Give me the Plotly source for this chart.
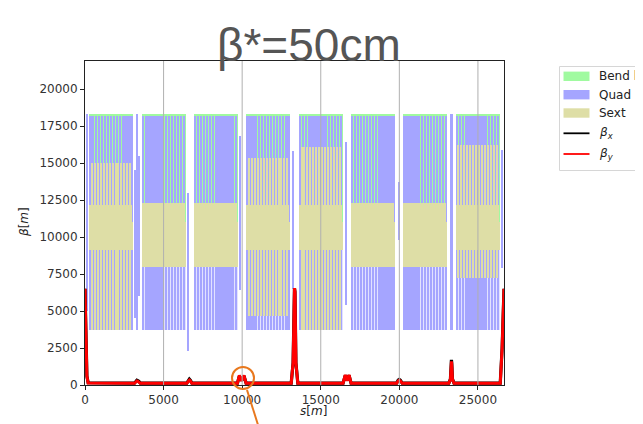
import numpy as np
import plotly.graph_objects as go

# ---------------- data ----------------
# arc extents along the ring [m]
arc_start = [265, 3597, 6930, 10262, 13594, 16927, 20259, 23580]
arc_end = [3067, 6400, 9732, 13064, 16397, 19729, 23061, 26394]
stripes_per_arc = 15

# element extents in the plot [m]
quad_low = 3700
quad_high = 18150
bend_low = 11000
bend_high = 18300

# sextupole bands per arc (None = band absent)
sext_sparse_low = [3700, None, None, 4660, 3700, None, None, 7200]
sext_sparse_high = [15000, None, None, 15350, 16100, None, None, 16200]
sext_dense_low = [11000, 11000, 11000, 11000, 11000, 11000, 11000, 11000]
sext_dense_high = [12200, 12300, 12300, 12200, 12200, 12300, 12300, 12200]
sext_solid_low = [9100, 8000, 8000, 9100, 9100, 8000, 8000, 9100]
sext_solid_high = [11000, 11000, 11000, 11000, 11000, 11000, 11000, 11000]

# insertion-region quadrupoles
ir_quad_s = [120, 3190, 3330, 3470, 6580, 9880, 13250, 16620, 19990, 23330, 26530]
ir_quad_low = [5000, 4500, 3700, 6000, 2300, 6400, 6500, 5400, 9800, 3700, 7900]
ir_quad_high = [18300, 14500, 18300, 15500, 13000, 16800, 15800, 16400, 13750, 18300, 15900]

# beta functions [m]
beta_s = [0, 50, 120, 200, 1600, 3150, 3250, 3300, 3360, 3420, 3520, 5000,
          6480, 6580, 6640, 6700, 6800, 8300,
          9700, 9820, 9965, 10110, 10250, 11700,
          13120, 13240, 13300, 13329, 13360, 13420, 13540, 15000,
          16420, 16560, 16680, 16800, 16930, 18300,
          19830, 19930, 19994, 20060, 20180, 21600,
          23150, 23250, 23300, 23315, 23335, 23380, 23480, 25000,
          26420, 26540, 26610, 26658.9]
beta_x = [6500, 3000, 600, 150, 130, 130, 260, 330, 300, 260, 130, 130,
          130, 300, 400, 330, 130, 130,
          130, 600, 300, 620, 130, 130,
          130, 1500, 6300, 6550, 6300, 1500, 130, 130,
          130, 650, 300, 650, 130, 130,
          130, 330, 380, 330, 130, 130,
          130, 400, 1500, 1700, 1500, 400, 130, 130,
          130, 2500, 6000, 6500]
beta_y = [6500, 3000, 600, 140, 120, 120, 220, 270, 250, 220, 120, 120,
          120, 260, 330, 280, 120, 120,
          120, 650, 280, 650, 120, 120,
          120, 1500, 6300, 6550, 6300, 1500, 120, 120,
          120, 680, 280, 680, 120, 120,
          120, 280, 320, 280, 120, 120,
          120, 380, 1400, 1600, 1400, 380, 120, 120,
          120, 2500, 6000, 6500]

x_ticks = [0, 5000, 10000, 15000, 20000, 25000]
y_ticks = [0, 2500, 5000, 7500, 10000, 12500, 15000, 17500, 20000]
s_max = 26658.9
y_max = 21900

# ---------------- styles ----------------
C_BEND = 'rgb(160,250,160)'
C_QUAD = 'rgb(165,165,255)'
C_QUAD_BG = 'rgb(226,226,255)'
C_SEXT = 'rgb(222,222,166)'

# the page body adds an 8 px offset; work in page pixels and subtract it
OFF = 8
W, H = 643 - OFF, 424 - OFF
L, T = 85 - OFF, 61 - OFF
R = W - (504 - OFF)
B = H - (385 - OFF)
PW, PH = W - L - R, H - T - B


def px(xpage):
    return (xpage - OFF - L) / PW


def py(ypage):
    return (H - B - (ypage - OFF)) / PH


fig = go.Figure()


def add_bars(xs, lows, highs, widths, color):
    fig.add_trace(go.Bar(
        x=xs, base=lows, y=[h - l for l, h in zip(lows, highs)], width=widths,
        marker=dict(color=color, line=dict(width=0)), showlegend=False,
        hoverinfo='skip'))


# lattice element stripes built from the arc tables
bg_x, bg_w = [], []
q_x, q_w = [], []
gap_x, gap_w, gap_lo, gap_hi = [], [], [], []
on_x, on_w, on_lo, on_hi = [], [], [], []
sol_x, sol_w, sol_lo, sol_hi = [], [], [], []
for i, (a, b) in enumerate(zip(arc_start, arc_end)):
    length = b - a
    p = length / stripes_per_arc
    bg_x.append((a + b) / 2)
    bg_w.append(length)
    for k in range(stripes_per_arc):
        c = a + (k + 0.5) * p
        q_x.append(c)
        q_w.append(0.62 * p)
        on_x.append(c - 0.16 * p)
        on_w.append(0.3 * p)
        on_lo.append(sext_dense_low[i])
        on_hi.append(sext_dense_high[i])
    for k in range(stripes_per_arc - 1):
        c = a + (k + 1) * p
        lo = sext_sparse_low[i]
        hi = sext_sparse_high[i]
        if lo is None:
            lo, hi = sext_dense_low[i], sext_dense_high[i]
        gap_x.append(c)
        gap_w.append(0.4 * p)
        gap_lo.append(lo)
        gap_hi.append(hi)
    sol_x.append((a + b) / 2)
    sol_w.append(length)
    sol_lo.append(sext_solid_low[i])
    sol_hi.append(sext_solid_high[i])

n = len(arc_start)
add_bars(bg_x, [quad_low] * n, [bend_low] * n, bg_w, C_QUAD_BG)
add_bars(bg_x, [bend_low] * n, [bend_high] * n, bg_w, C_BEND)
add_bars(q_x, [quad_low] * len(q_x), [quad_high] * len(q_x), q_w, C_QUAD)
add_bars(ir_quad_s, ir_quad_low, ir_quad_high, [110] * len(ir_quad_s), C_QUAD)
add_bars(gap_x, gap_lo, gap_hi, gap_w, C_SEXT)
add_bars(on_x, on_lo, on_hi, on_w, C_SEXT)
add_bars(sol_x, sol_lo, sol_hi, sol_w, C_SEXT)

fig.add_trace(go.Scatter(x=beta_s, y=beta_x, mode='lines',
                         line=dict(color='black', width=3.2), showlegend=False))
fig.add_trace(go.Scatter(x=beta_s, y=beta_y, mode='lines',
                         line=dict(color='red', width=3.0), showlegend=False))

axis_common = dict(ticks='outside', ticklen=4, tickwidth=1, tickcolor='#222',
                   showline=True, linecolor='#222', linewidth=1, mirror=True,
                   showgrid=False, zeroline=False,
                   tickfont=dict(family='DejaVu Sans', size=12, color='#333'))
fig.update_xaxes(range=[0, s_max], tickvals=x_ticks,
                 ticktext=[str(v) for v in x_ticks], **axis_common)
fig.update_yaxes(range=[0, y_max], tickvals=y_ticks,
                 ticktext=[str(v) for v in y_ticks], **axis_common)

shapes = []
for v in x_ticks[1:]:
    shapes.append(dict(type='line', xref='x', yref='paper', x0=v, x1=v, y0=0, y1=1,
                       line=dict(color='#b0b0b0', width=1), layer='above'))

# legend (drawn by hand to match the reference)
shapes.append(dict(type='rect', xref='paper', yref='paper', x0=px(559.5), x1=px(700),
                   y0=py(170.5), y1=py(66.5), line=dict(color='#d6d6d6', width=1),
                   fillcolor='white', layer='above'))
leg_items = [('Bend h', C_BEND, 'patch', 76.3), ('Quad', C_QUAD, 'patch', 94.7),
             ('Sext', C_SEXT, 'patch', 113.0),
             ('<i>β<sub>x</sub></i>', 'black', 'line', 133.3),
             ('<i>β<sub>y</sub></i>', 'red', 'line', 154.0)]
annotations = []
for label, col, kind, yc in leg_items:
    if kind == 'patch':
        shapes.append(dict(type='rect', xref='paper', yref='paper', x0=px(563.5), x1=px(589.5),
                           y0=py(yc + 4.7), y1=py(yc - 4.7), line=dict(width=0),
                           fillcolor=col, layer='above'))
    else:
        shapes.append(dict(type='line', xref='paper', yref='paper', x0=px(563.5), x1=px(589.5),
                           y0=py(yc), y1=py(yc), line=dict(color=col, width=1.8), layer='above'))
    annotations.append(dict(xref='paper', yref='paper', x=px(597), y=py(yc), text=label,
                            showarrow=False, xanchor='left', yanchor='middle',
                            font=dict(family='DejaVu Sans', size=12, color='#222')))

# orange highlight circle and pointer
shapes.append(dict(type='circle', xref='paper', yref='paper', x0=px(232), x1=px(254),
                   y0=py(389), y1=py(367), line=dict(color='#e8781e', width=2), layer='above'))
shapes.append(dict(type='line', xref='paper', yref='paper', x0=px(247), x1=px(259),
                   y0=py(390), y1=py(428), line=dict(color='#e8781e', width=2), layer='above'))

# title and axis labels
annotations.append(dict(xref='paper', yref='paper', x=px(308.5), y=py(45), text='β*=50cm',
                        showarrow=False, xanchor='center', yanchor='middle',
                        font=dict(family='Liberation Sans', size=46, color='#555555')))
annotations.append(dict(xref='paper', yref='paper', x=px(313), y=py(411),
                        text='<i>s</i>[<i>m</i>]', showarrow=False,
                        xanchor='center', yanchor='middle',
                        font=dict(family='DejaVu Sans', size=12, color='#222')))
annotations.append(dict(xref='paper', yref='paper', x=px(24), y=py(222),
                        text='<i>β</i>[<i>m</i>]', showarrow=False, textangle=-90,
                        xanchor='center', yanchor='middle',
                        font=dict(family='DejaVu Sans', size=12, color='#222')))

fig.update_layout(width=W, height=H, margin=dict(l=L, r=R, t=T, b=B, autoexpand=False),
                  paper_bgcolor='white', plot_bgcolor='white', barmode='overlay',
                  bargap=0, showlegend=False, shapes=shapes, annotations=annotations)

fig.write_html('out.html')
